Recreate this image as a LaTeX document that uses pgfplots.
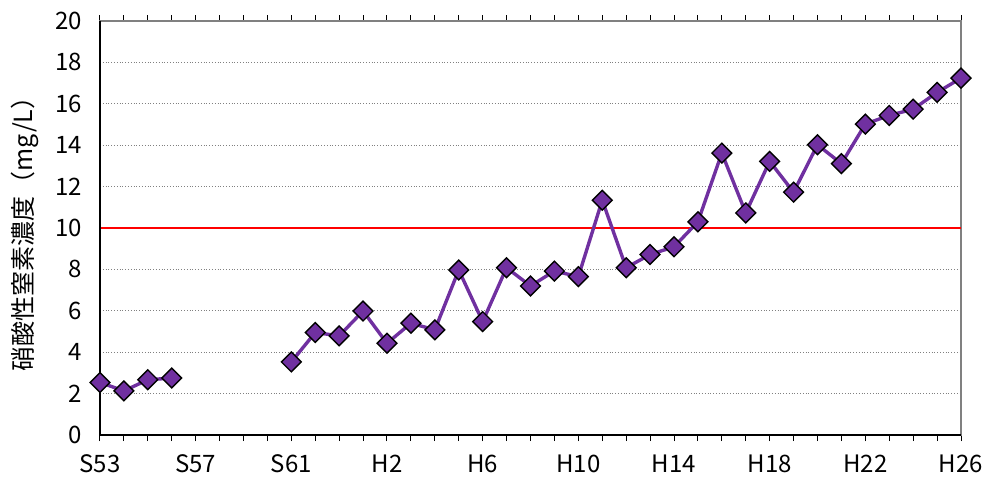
\documentclass[border=0pt]{standalone}
\usepackage{fontspec}
\setmainfont{Noto Sans CJK JP}
\usepackage{pgfplots}
\pgfplotsset{compat=1.18}
\definecolor{lineviolet}{HTML}{7030A0}
\begin{document}
\begin{tikzpicture}
\begin{axis}[
  name=main,
  scale only axis,
  width=430.5pt, height=207pt,
  xmin=0, xmax=36, ymin=0, ymax=20,
  xtick={0,4,...,36},
  xticklabels={S53,S57,S61,H2,H6,H10,H14,H18,H22,H26},
  minor xtick={0,...,36},
  xtick align=outside,
  major tick length=3pt, minor tick length=3pt,
  every tick/.style={black, line width=0.5pt},
  ytick={0,2,...,20},
  ytick style={draw=none},
  ymajorgrids,
  grid style={densely dotted, gray, line width=0.4pt},
  axis line style={draw=gray, line width=0.6pt},
  /pgf/number format/assume math mode=true,
  tick label style={font=\fontsize{12}{14}\selectfont},
  xticklabel style={yshift=-3.5pt},
  yticklabel style={xshift=-5.5pt},
  ylabel={硝酸性窒素濃度（mg/L）},
  every axis y label/.style={at={(rel axis cs:0,0.5)}, rotate=90, anchor=center, yshift=37.5pt, font=\fontsize{12.5}{14}\selectfont},
  unbounded coords=jump,
  clip=false,
]
\addplot[red, line width=1pt, forget plot] coordinates {(0,10) (36,10)};
\draw[black, line width=0.7pt] (rel axis cs:0,1) -- (rel axis cs:0,0) -- (rel axis cs:1,0);
\addplot[lineviolet, line width=1.7pt, mark=square*, mark size=3.5pt,
  mark options={rotate=45, fill=lineviolet, draw=black, line width=0.7pt, solid}]
coordinates {
(0,2.54) (1,2.13) (2,2.67) (3,2.75) (4,nan)
(8,3.53) (9,4.95) (10,4.79) (11,5.99) (12,4.43) (13,5.40) (14,5.08)
(15,7.97) (16,5.48) (17,8.08) (18,7.20) (19,7.92) (20,7.65) (21,11.34)
(22,8.08) (23,8.72) (24,9.09) (25,10.30) (26,13.62) (27,10.73) (28,13.22)
(29,11.73) (30,14.02) (31,13.11) (32,15.02) (33,15.44) (34,15.74)
(35,16.55) (36,17.24)
};
\end{axis}
\pgfresetboundingbox
\path ([shift={(-50pt,-21pt)}]main.south west) rectangle ([shift={(12.5pt,10.5pt)}]main.north east);
\end{tikzpicture}
\end{document}
